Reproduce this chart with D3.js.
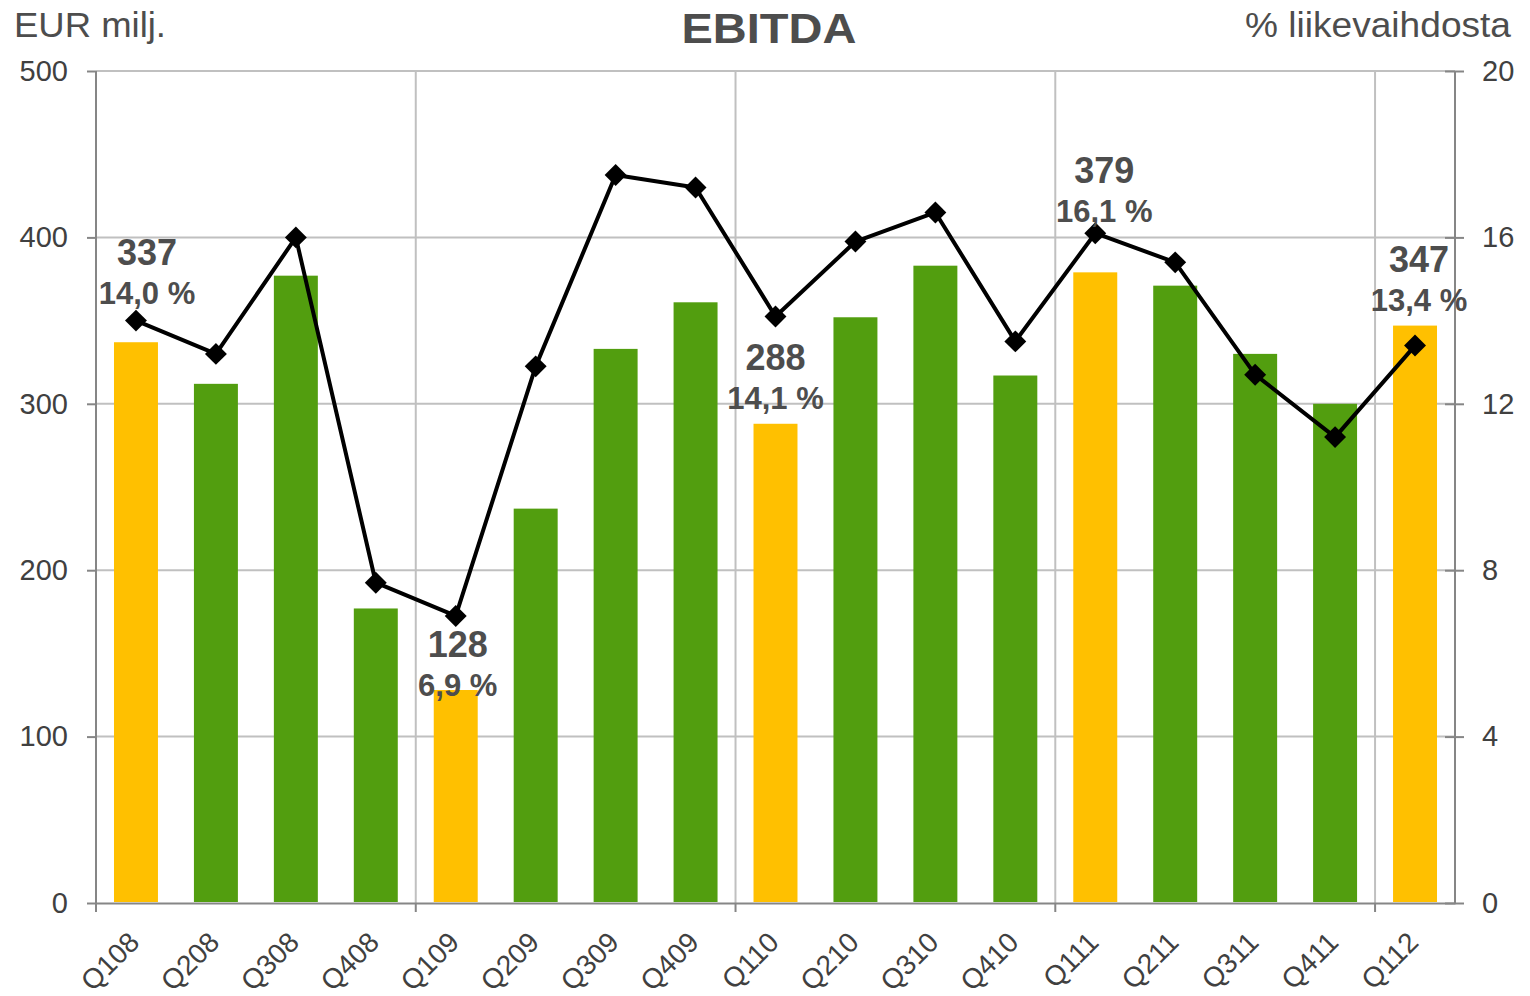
<!DOCTYPE html>
<html lang="fi">
<head>
<meta charset="utf-8">
<title>EBITDA</title>
<script src="https://d3js.org/d3.v7.min.js"></script>
<style>
  body { margin: 0; background: #fff; }
  text { font-family: "Liberation Sans", Arial, sans-serif; }
</style>
</head>
<body>
<div id="chart"></div>
<script>
// quarters on the x axis
const quarters = ["Q108", "Q208", "Q308", "Q408", "Q109", "Q209", "Q309", "Q409",
                  "Q110", "Q210", "Q310", "Q410", "Q111", "Q211", "Q311", "Q411", "Q112"];
// EBITDA, EUR million (bars)
const ebitda = [337, 312, 377, 177, 128, 237, 333, 361, 288, 352, 383, 317, 379, 371, 330, 300, 347];
// EBITDA as % of net sales (line)
const margin = [14.0, 13.2, 16.0, 7.7, 6.9, 12.9, 17.5, 17.2, 14.1, 15.9, 16.6, 13.5, 16.1, 15.4, 12.7, 11.2, 13.4];
// first quarters are shown in yellow and labelled
const labelled = ["Q108", "Q109", "Q110", "Q111", "Q112"];
const leftTicks = [0, 100, 200, 300, 400, 500];
const rightTicks = [0, 4, 8, 12, 16, 20];

// label nudges (px) for the labelled quarters, same order as above
const labelDx = [11, 2, 0, 9, 4];
const labelDy = [-77, -33, -54, -89, -54];

const W = 1530, H = 996;
const plotLeft = 96, plotRight = 1455, plotTop = 71, plotBottom = 903;
const textCol = "#4d4d4d", axisCol = "#868686", gridCol = "#c0c0c0";
const yellow = "#ffc000", green = "#529e0f";

const svg = d3.select("#chart").append("svg")
    .attr("width", W)
    .attr("height", H);

const x = d3.scaleBand()
    .domain(quarters)
    .range([plotLeft, plotRight])
    .paddingInner(0.45)
    .paddingOuter(0.225);

const yL = d3.scaleLinear().domain([0, 500]).range([plotBottom, plotTop]);
const yR = d3.scaleLinear().domain([0, 20]).range([plotBottom, plotTop]);

// year boundaries (every fourth quarter)
const boundary = function(i) {
    return x(quarters[i]) - x.step() * x.paddingInner() / 2;
};
const yearStarts = [0, 4, 8, 12, 16];

// horizontal gridlines
svg.append("g")
    .selectAll("line")
    .data(leftTicks.slice(1))
    .enter().append("line")
        .attr("x1", plotLeft).attr("x2", plotRight)
        .attr("y1", d => yL(d)).attr("y2", d => yL(d))
        .attr("stroke", gridCol).attr("stroke-width", 2);

// vertical gridlines
svg.append("g")
    .selectAll("line")
    .data(yearStarts.slice(1))
    .enter().append("line")
        .attr("x1", d => boundary(d)).attr("x2", d => boundary(d))
        .attr("y1", plotTop).attr("y2", plotBottom)
        .attr("stroke", gridCol).attr("stroke-width", 2);

// left axis
const axisL = svg.append("g")
    .attr("transform", "translate(" + plotLeft + ",0)")
    .call(d3.axisLeft(yL).tickValues(leftTicks).tickSize(9).tickPadding(19));

// right axis
const axisR = svg.append("g")
    .attr("transform", "translate(" + plotRight + ",0)")
    .call(d3.axisRight(yR).tickValues(rightTicks).tickSize(9).tickPadding(18));
axisR.selectAll(".tick line").attr("x1", -10);

// bottom axis (labels only, ticks at year boundaries)
const axisB = svg.append("g")
    .attr("transform", "translate(0," + plotBottom + ")")
    .call(d3.axisBottom(x).tickSize(0).tickPadding(0).tickSizeOuter(0));
axisB.selectAll(".tick text")
    .attr("text-anchor", "end")
    .attr("y", 0)
    .attr("dy", 0)
    .attr("transform", "translate(5,41) rotate(-45)")
    .style("font-size", "28px");
axisB.append("g")
    .selectAll("line")
    .data(yearStarts)
    .enter().append("line")
        .attr("x1", d => boundary(d)).attr("x2", d => boundary(d))
        .attr("y1", 0).attr("y2", 9);

[axisL, axisR, axisB].forEach(function(a) {
    a.selectAll("path.domain").attr("stroke", axisCol).attr("stroke-width", 2);
    a.selectAll("line").attr("stroke", axisCol).attr("stroke-width", 2);
    a.selectAll(".tick text")
        .attr("fill", "#404040")
        .attr("font-family", "Liberation Sans, Arial, sans-serif");
});
axisL.selectAll(".tick text").style("font-size", "29px");
axisR.selectAll(".tick text").style("font-size", "29px");
axisL.select("path.domain").attr("d", "M0," + plotTop + "V" + plotBottom);
axisR.select("path.domain").attr("d", "M0," + plotTop + "V" + plotBottom);

// bars
svg.append("g")
    .selectAll("rect")
    .data(quarters)
    .enter().append("rect")
        .attr("x", d => x(d))
        .attr("width", x.bandwidth())
        .attr("y", (d, i) => yL(ebitda[i]))
        .attr("height", (d, i) => plotBottom - 1 - yL(ebitda[i]))
        .attr("fill", d => labelled.includes(d) ? yellow : green);

// margin line
const cx = d => x(d) + x.bandwidth() / 2;
const line = d3.line()
    .x(d => cx(d))
    .y((d, i) => yR(margin[i]));

svg.append("path")
    .datum(quarters)
    .attr("d", line)
    .attr("fill", "none")
    .attr("stroke", "#000")
    .attr("stroke-width", 4)
    .attr("stroke-linejoin", "round");

svg.append("g")
    .selectAll("path")
    .data(quarters)
    .enter().append("path")
        .attr("d", d3.symbol(d3.symbolSquare, 240))
        .attr("transform", (d, i) => "translate(" + cx(d) + "," + yR(margin[i]) + ") rotate(45)")
        .attr("fill", "#000");

// labels on the first quarters
const fmtPct = d => d3.format(".1f")(d).replace(".", ",") + " %";
const labels = svg.append("g")
    .selectAll("g")
    .data(labelled)
    .enter().append("g")
        .attr("transform", function(d, j) {
            const i = quarters.indexOf(d);
            return "translate(" + (cx(d) + labelDx[j]) + "," + (yL(ebitda[i]) + labelDy[j]) + ")";
        });
labels.append("text")
    .attr("text-anchor", "middle")
    .attr("fill", textCol)
    .attr("font-weight", "bold")
    .style("font-size", "36px")
    .text(d => ebitda[quarters.indexOf(d)]);
labels.append("text")
    .attr("text-anchor", "middle")
    .attr("y", 39)
    .attr("fill", textCol)
    .attr("font-weight", "bold")
    .style("font-size", "31px")
    .text(d => fmtPct(margin[quarters.indexOf(d)]));

// titles
svg.append("text")
    .attr("x", 769).attr("y", 43)
    .attr("text-anchor", "middle")
    .attr("fill", textCol)
    .attr("font-weight", "bold")
    .attr("textLength", 175)
    .attr("lengthAdjust", "spacingAndGlyphs")
    .style("font-size", "42px")
    .text("EBITDA");

svg.append("text")
    .attr("x", 14).attr("y", 37)
    .attr("fill", textCol)
    .attr("textLength", 152)
    .attr("lengthAdjust", "spacingAndGlyphs")
    .style("font-size", "35px")
    .text("EUR milj.");

svg.append("text")
    .attr("x", 1245).attr("y", 37)
    .attr("fill", textCol)
    .attr("textLength", 266)
    .attr("lengthAdjust", "spacingAndGlyphs")
    .style("font-size", "35px")
    .text("% liikevaihdosta");
</script>
</body>
</html>
